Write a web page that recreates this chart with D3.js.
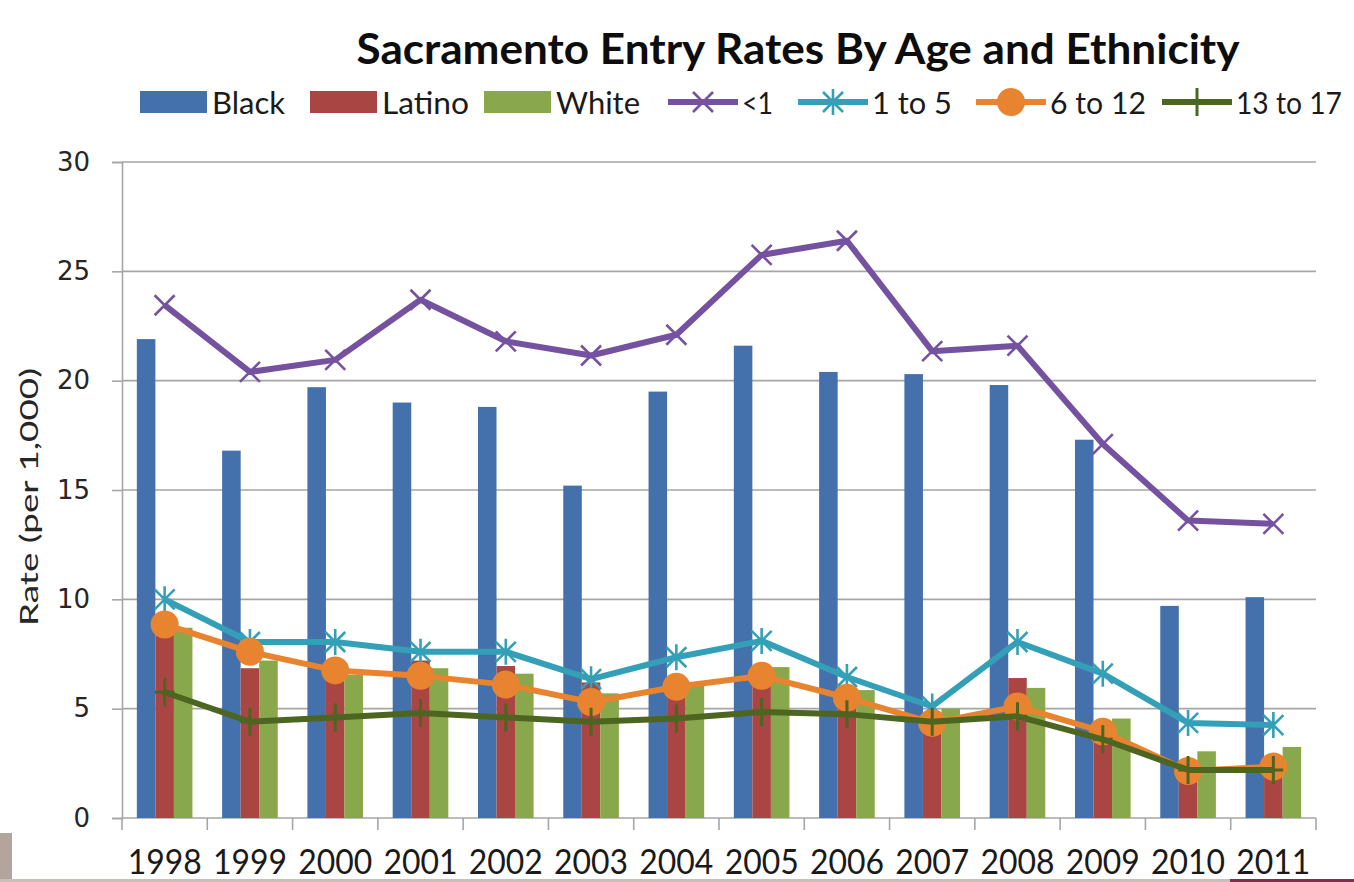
<!DOCTYPE html>
<html>
<head>
<meta charset="utf-8">
<script src="https://cdn.jsdelivr.net/npm/d3@7"></script>
<style>
  body { margin: 0; background: #fff; }
  svg { display: block; }
</style>
</head>
<body>
<script>
// years on the x axis
const years = ["1998","1999","2000","2001","2002","2003","2004","2005","2006","2007","2008","2009","2010","2011"];

// bar series (ethnicity)
const black  = [21.9, 16.8, 19.7, 19.0, 18.8, 15.2, 19.5, 21.6, 20.4, 20.3, 19.8, 17.3, 9.7, 10.1];
const latino = [8.5, 6.85, 6.4, 7.2, 6.95, 6.2, 5.9, 6.1, 5.5, 4.4, 6.4, 3.7, 2.05, 2.2];
const white  = [8.7, 7.2, 6.55, 6.85, 6.6, 5.7, 6.2, 6.9, 5.85, 5.0, 5.95, 4.55, 3.05, 3.25];

// line series (age)
const under1   = [23.45, 20.4, 20.95, 23.7, 21.8, 21.15, 22.1, 25.75, 26.4, 21.35, 21.6, 17.1, 13.6, 13.45];
const age1to5  = [10.0, 8.05, 8.05, 7.6, 7.6, 6.35, 7.35, 8.1, 6.45, 5.1, 8.05, 6.6, 4.35, 4.25];
const age6to12 = [8.85, 7.6, 6.75, 6.5, 6.1, 5.3, 6.0, 6.5, 5.5, 4.35, 5.1, 3.95, 2.15, 2.35];
const age13to17 = [5.75, 4.4, 4.6, 4.8, 4.6, 4.4, 4.55, 4.85, 4.75, 4.4, 4.65, 3.6, 2.2, 2.2];

const yTicks = [0, 5, 10, 15, 20, 25, 30];

const bars = [
  {name: "Black",  values: black,  color: "#4471ab"},
  {name: "Latino", values: latino, color: "#a94543"},
  {name: "White",  values: white,  color: "#89a84b"}
];
const lines = [
  {name: "<1",       values: under1,    color: "#7552a0", marker: "x"},
  {name: "1 to 5",   values: age1to5,   color: "#34a0b8", marker: "star"},
  {name: "6 to 12",  values: age6to12,  color: "#e8832f", marker: "circle"},
  {name: "13 to 17", values: age13to17, color: "#4c6622", marker: "plus"}
];

const W = 1354, H = 882;
const margin = {top: 162, right: 38, bottom: 64, left: 122};
const width = W - margin.left - margin.right;
const height = H - margin.top - margin.bottom;
const labelFont = "Lato";

const svg = d3.select("body").append("svg")
  .attr("width", W)
  .attr("height", H);

// small decoration at the bottom of the slide
svg.append("rect").attr("x", 0).attr("y", 833).attr("width", 12).attr("height", 49).attr("fill", "#b3a59c");
svg.append("rect").attr("x", 0).attr("y", 879).attr("width", 1230).attr("height", 3).attr("fill", "#c9bfb8");
svg.append("rect").attr("x", 1230).attr("y", 879).attr("width", 124).attr("height", 3).attr("fill", "#8a2a4e");

const g = svg.append("g")
  .attr("transform", "translate(" + margin.left + "," + margin.top + ")");

const x = d3.scaleBand().domain(years).range([0, width]);
const xSub = d3.scaleBand().domain(bars.map(d => d.name))
  .range([0, x.bandwidth()]).paddingInner(0).paddingOuter(0.8);
const y = d3.scaleLinear().domain([0, 30]).range([height, 0]);

// gridlines
g.append("g")
  .selectAll("line")
  .data(yTicks.filter(d => d > 0))
  .enter().append("line")
    .attr("x1", 0).attr("x2", width)
    .attr("y1", d => y(d)).attr("y2", d => y(d))
    .attr("stroke", "#a6a6a6")
    .attr("stroke-width", 1.6);

// y axis
const yAxis = d3.axisLeft(y).tickValues(yTicks).tickSize(10).tickPadding(22);
const yG = g.append("g").call(yAxis);
yG.select(".domain").attr("stroke", "#a6a6a6").attr("stroke-width", 1.6);
yG.selectAll(".tick line").attr("stroke", "#a6a6a6").attr("stroke-width", 1.6);
yG.selectAll("text")
  .attr("font-family", "DejaVu Sans")
  .attr("font-size", 26)
  .attr("fill", "#262626");

// x axis: ticks at category boundaries
const xG = g.append("g").attr("transform", "translate(0," + height + ")");
xG.append("line").attr("x1", 0).attr("x2", width).attr("y1", 0).attr("y2", 0)
  .attr("stroke", "#a6a6a6").attr("stroke-width", 1.6);
xG.selectAll(".bt")
  .data(years.concat(["end"]))
  .enter().append("line")
    .attr("x1", (d, i) => i * x.step()).attr("x2", (d, i) => i * x.step())
    .attr("y1", 0).attr("y2", 12)
    .attr("stroke", "#a6a6a6").attr("stroke-width", 1.6);
xG.selectAll("text")
  .data(years)
  .enter().append("text")
    .attr("x", d => x(d) + x.bandwidth() / 2)
    .attr("y", 56)
    .attr("text-anchor", "middle")
    .attr("font-family", labelFont)
    .attr("font-size", 35)
    .attr("textLength", 74)
    .attr("lengthAdjust", "spacingAndGlyphs")
    .attr("fill", "#1a1a1a")
    .text(d => d);

// bars
bars.forEach(s => {
  g.append("g").selectAll("rect")
    .data(s.values)
    .enter().append("rect")
      .attr("x", (d, i) => x(years[i]) + xSub(s.name))
      .attr("y", d => y(d))
      .attr("width", xSub.bandwidth())
      .attr("height", d => height - y(d))
      .attr("fill", s.color);
});

// markers
function drawMarker(sel, type, color, scale) {
  const k = scale || 1;
  if (type === "x") {
    const r = 10 * k;
    sel.append("path").attr("d", `M${-r},${-r}L${r},${r}M${-r},${r}L${r},${-r}`)
      .attr("stroke", color).attr("stroke-width", 2.6).attr("fill", "none");
  } else if (type === "star") {
    const r = 10 * k;
    sel.append("path").attr("d", `M${-r},${-r}L${r},${r}M${-r},${r}L${r},${-r}M0,${-r * 1.3}L0,${r * 1.3}`)
      .attr("stroke", color).attr("stroke-width", 2.6).attr("fill", "none");
  } else if (type === "circle") {
    sel.append("circle").attr("r", 14 * k).attr("fill", color);
  } else if (type === "plus") {
    const r = 14 * k;
    sel.append("path").attr("d", `M0,${-r}L0,${r}M${-r * 0.7},0L${r * 0.7},0`)
      .attr("stroke", color).attr("stroke-width", 3).attr("fill", "none");
  }
}

// lines
const line = d3.line()
  .x((d, i) => x(years[i]) + x.bandwidth() / 2)
  .y(d => y(d));

lines.forEach(s => {
  const lg = g.append("g");
  lg.append("path")
    .datum(s.values)
    .attr("d", line)
    .attr("fill", "none")
    .attr("stroke", s.color)
    .attr("stroke-width", 6)
    .attr("stroke-linejoin", "round");
  lg.selectAll(".m")
    .data(s.values)
    .enter().append("g")
      .attr("transform", (d, i) => "translate(" + (x(years[i]) + x.bandwidth() / 2) + "," + y(d) + ")")
      .each(function() { drawMarker(d3.select(this), s.marker, s.color); });
});

// y axis title
svg.append("text")
  .attr("transform", "translate(38,497) rotate(-90)")
  .attr("text-anchor", "middle")
  .attr("font-family", labelFont)
  .attr("font-size", 25)
  .attr("textLength", 258)
  .attr("lengthAdjust", "spacingAndGlyphs")
  .attr("fill", "#262626")
  .text("Rate (per 1,000)");

// title
svg.append("text")
  .attr("x", 798)
  .attr("y", 64)
  .attr("text-anchor", "middle")
  .attr("font-family", labelFont)
  .attr("font-weight", "bold")
  .attr("font-size", 42)
  .attr("textLength", 883)
  .attr("lengthAdjust", "spacingAndGlyphs")
  .attr("fill", "#0d0d0d")
  .text("Sacramento Entry Rates By Age and Ethnicity");

// legend
const legendPos = [140, 310, 484, 668, 798, 976, 1162];
const legendTextW = [73, 87, 84, 31, 80, 96, 106];
const legendItems = bars.map(d => ({name: d.name, color: d.color, kind: "bar"}))
  .concat(lines.map(d => ({name: d.name, color: d.color, kind: "line", marker: d.marker})));
const leg = svg.append("g");
legendItems.forEach((d, i) => {
  const it = leg.append("g").attr("transform", "translate(" + legendPos[i] + ",102)");
  if (d.kind === "bar") {
    it.append("rect").attr("x", 0).attr("y", -11).attr("width", 67).attr("height", 22).attr("fill", d.color);
  } else {
    it.append("line").attr("x1", 0).attr("x2", 70).attr("y1", 0).attr("y2", 0)
      .attr("stroke", d.color).attr("stroke-width", 6);
    const mk = it.append("g").attr("transform", "translate(35,0)");
    drawMarker(mk, d.marker, d.color, 1);
  }
  it.append("text")
    .attr("x", d.kind === "bar" ? 72 : 74)
    .attr("y", 12)
    .attr("font-family", labelFont)
    .attr("font-size", 30)
    .attr("textLength", legendTextW[i])
    .attr("lengthAdjust", "spacingAndGlyphs")
    .attr("fill", "#1a1a1a")
    .text(d.name);
});
</script>
</body>
</html>
